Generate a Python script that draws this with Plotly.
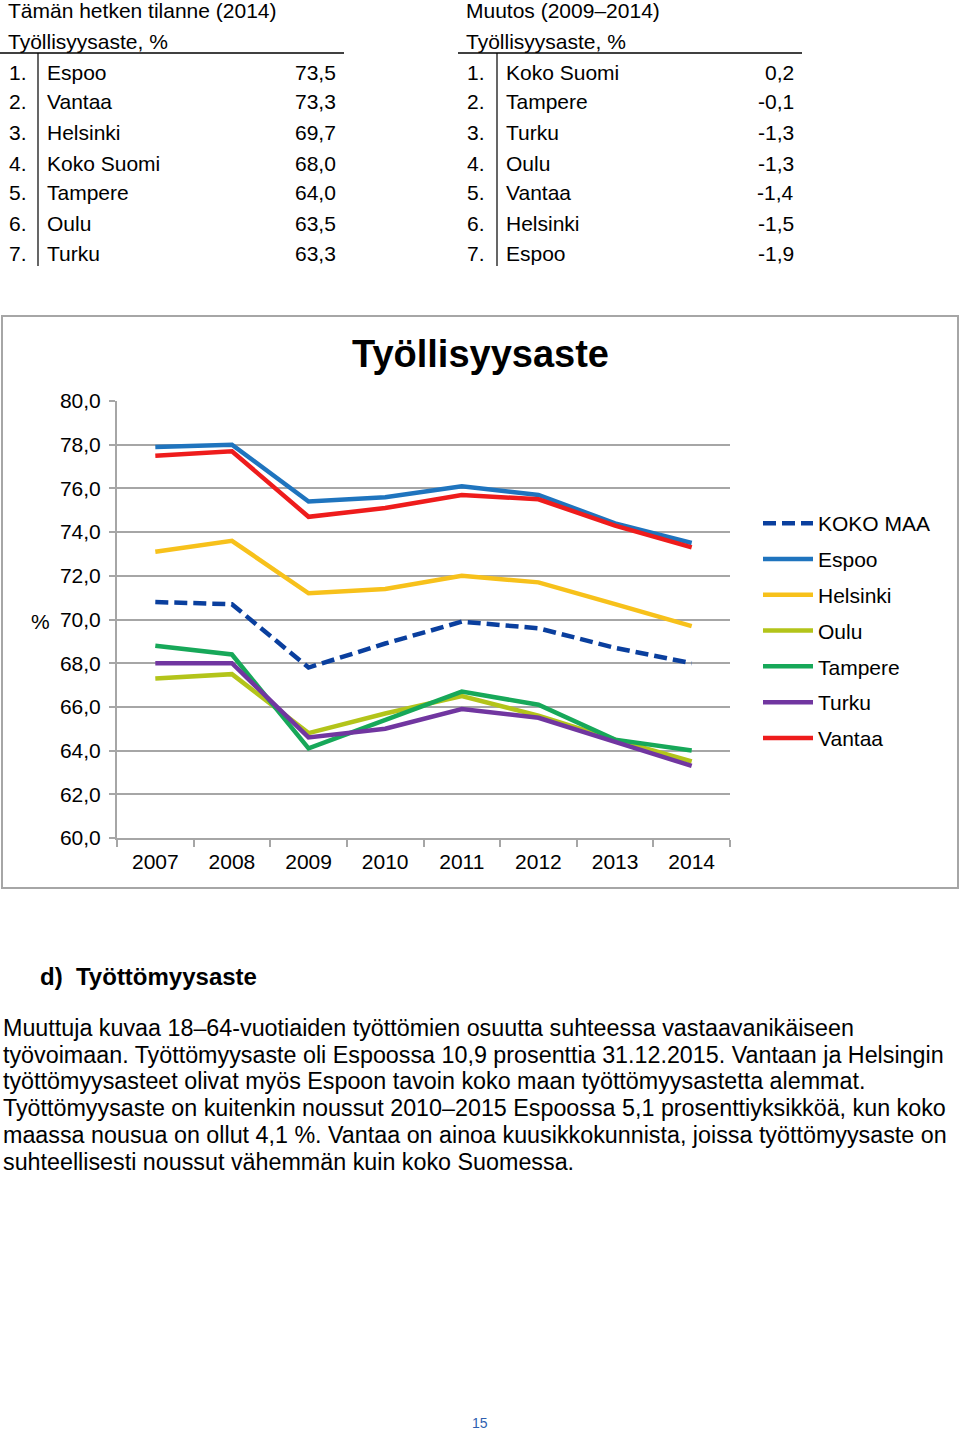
import plotly.graph_objects as go

W, H = 960, 1432
FONT = "Liberation Sans, Arial, sans-serif"

years = ["2007", "2008", "2009", "2010", "2011", "2012", "2013", "2014"]
koko_maa = [70.8, 70.7, 67.8, 68.9, 69.9, 69.6, 68.7, 68.0]
espoo = [77.9, 78.0, 75.4, 75.6, 76.1, 75.7, 74.4, 73.5]
helsinki = [73.1, 73.6, 71.2, 71.4, 72.0, 71.7, 70.7, 69.7]
oulu = [67.3, 67.5, 64.8, 65.7, 66.5, 65.6, 64.5, 63.5]
tampere = [68.8, 68.4, 64.1, 65.4, 66.7, 66.1, 64.5, 64.0]
turku = [68.0, 68.0, 64.6, 65.0, 65.9, 65.5, 64.4, 63.3]
vantaa = [77.5, 77.7, 74.7, 75.1, 75.7, 75.5, 74.3, 73.3]

series_names = ["KOKO MAA", "Espoo", "Helsinki", "Oulu", "Tampere", "Turku", "Vantaa"]
series_values = [koko_maa, espoo, helsinki, oulu, tampere, turku, vantaa]
series_colors = ["#0A3F9E", "#1F74BE", "#F7C11B", "#B3C41A", "#17A859", "#7136A0", "#EE1C1C"]

t1_title = "Tämän hetken tilanne (2014)"
t1_sub = "Työllisyysaste, %"
t1_names = ["Espoo", "Vantaa", "Helsinki", "Koko Suomi", "Tampere", "Oulu", "Turku"]
t1_values = ["73,5", "73,3", "69,7", "68,0", "64,0", "63,5", "63,3"]

t2_title = "Muutos (2009–2014)"
t2_sub = "Työllisyysaste, %"
t2_names = ["Koko Suomi", "Tampere", "Turku", "Oulu", "Vantaa", "Helsinki", "Espoo"]
t2_values = ["0,2", "-0,1", "-1,3", "-1,3", "-1,4", "-1,5", "-1,9"]

chart_title = "Työllisyysaste"
section_title = "d)  Työttömyysaste"
paragraph = [
    "Muuttuja kuvaa 18–64-vuotiaiden työttömien osuutta suhteessa vastaavanikäiseen",
    "työvoimaan. Työttömyysaste oli Espoossa 10,9 prosenttia 31.12.2015. Vantaan ja Helsingin",
    "työttömyysasteet olivat myös Espoon tavoin koko maan työttömyysastetta alemmat.",
    "Työttömyysaste on kuitenkin noussut 2010–2015 Espoossa 5,1 prosenttiyksikköä, kun koko",
    "maassa nousua on ollut 4,1 %. Vantaa on ainoa kuusikkokunnista, joissa työttömyysaste on",
    "suhteellisesti noussut vähemmän kuin koko Suomessa.",
]
page_number = "15"


def px(x):
    return x / W


def py(y):
    return 1 - y / H


fig = go.Figure()
for name, vals, col in zip(series_names, series_values, series_colors):
    fig.add_trace(go.Scatter(
        x=years, y=vals, mode="lines", name=name, legendgroup=name,
        line=dict(color=col, width=4.5, dash="13px,6px" if name == "KOKO MAA" else "solid"),
    ))

annotations = []
shapes = []


def text(x, y, s, size=21, anchor="left", bold=False, color="#000"):
    annotations.append(dict(
        x=px(x), y=py(y), xref="paper", yref="paper", text=f"<b>{s}</b>" if bold else s,
        showarrow=False, xanchor=anchor, yanchor="middle",
        font=dict(family=FONT, size=size, color=color),
    ))


row_y = [72, 102, 132, 163, 193, 223, 253]
for (x0, x1, titx, numx, vx, namex, valx, title, sub, names, vals) in [
    (0, 344, 6, 7, 38, 45, 338, t1_title, t1_sub, t1_names, t1_values),
    (458, 802, 464, 465, 497, 504, 796, t2_title, t2_sub, t2_names, t2_values),
]:
    text(titx, 11, title)
    text(titx, 41, sub)
    shapes.append(dict(type="line", xref="paper", yref="paper", x0=px(x0), x1=px(x1),
                       y0=py(53), y1=py(53), line=dict(color="#000", width=1.5)))
    shapes.append(dict(type="line", xref="paper", yref="paper", x0=px(vx), x1=px(vx),
                       y0=py(53), y1=py(266), line=dict(color="#000", width=1.2)))
    for i, (n, v) in enumerate(zip(names, vals)):
        text(numx, row_y[i], f"{i + 1}.")
        text(namex, row_y[i], n)
        text(valx, row_y[i], v, anchor="right")

# chart border
shapes.append(dict(type="rect", xref="paper", yref="paper", x0=px(2), x1=px(958),
                   y0=py(888), y1=py(316), line=dict(color="#A6A6A6", width=2)))
text(480, 354, chart_title, size=38, anchor="center", bold=True)
text(40, 621, "%", size=21, anchor="center")

text(38, 977, section_title, size=24, bold=True)
for i, line in enumerate(paragraph):
    text(1, 1028 + i * 26.7, line, size=23.3)
text(480, 1423, page_number, size=14, anchor="center", color="#2E5FAF")

fig.update_layout(
    width=W, height=H, margin=dict(l=0, r=0, t=0, b=0, autoexpand=False),
    paper_bgcolor="white", plot_bgcolor="white",
    separators=", ",
    showlegend=True,
    legend=dict(x=px(758), y=py(503), xanchor="left", yanchor="top",
                font=dict(family=FONT, size=21, color="#000"),
                tracegroupgap=5.5, itemwidth=50, bgcolor="rgba(0,0,0,0)"),
    xaxis=dict(domain=[px(117), px(730)], type="category", range=[-0.5, 7.5],
               showgrid=False, showline=True, linecolor="#A6A6A6", linewidth=2,
               ticks="outside", tickson="boundaries", ticklen=7, tickcolor="#A6A6A6", tickwidth=1.5,
               ticklabelstandoff=4,
               tickfont=dict(family=FONT, size=21, color="#000")),
    yaxis=dict(domain=[py(838), py(401)], range=[60, 80], dtick=2, tickformat=".1f",
               showgrid=True, gridcolor="#A6A6A6", gridwidth=2,
               showline=True, linecolor="#A6A6A6", linewidth=2,
               ticks="outside", ticklen=6, tickcolor="#A6A6A6", tickwidth=2,
               ticklabelstandoff=4,
               zeroline=False, tickfont=dict(family=FONT, size=21, color="#000")),
    annotations=annotations, shapes=shapes,
)

fig.write_html("out.html", config={"displayModeBar": False},
               post_script="document.body.style.margin='0';document.body.style.overflow='hidden';")
